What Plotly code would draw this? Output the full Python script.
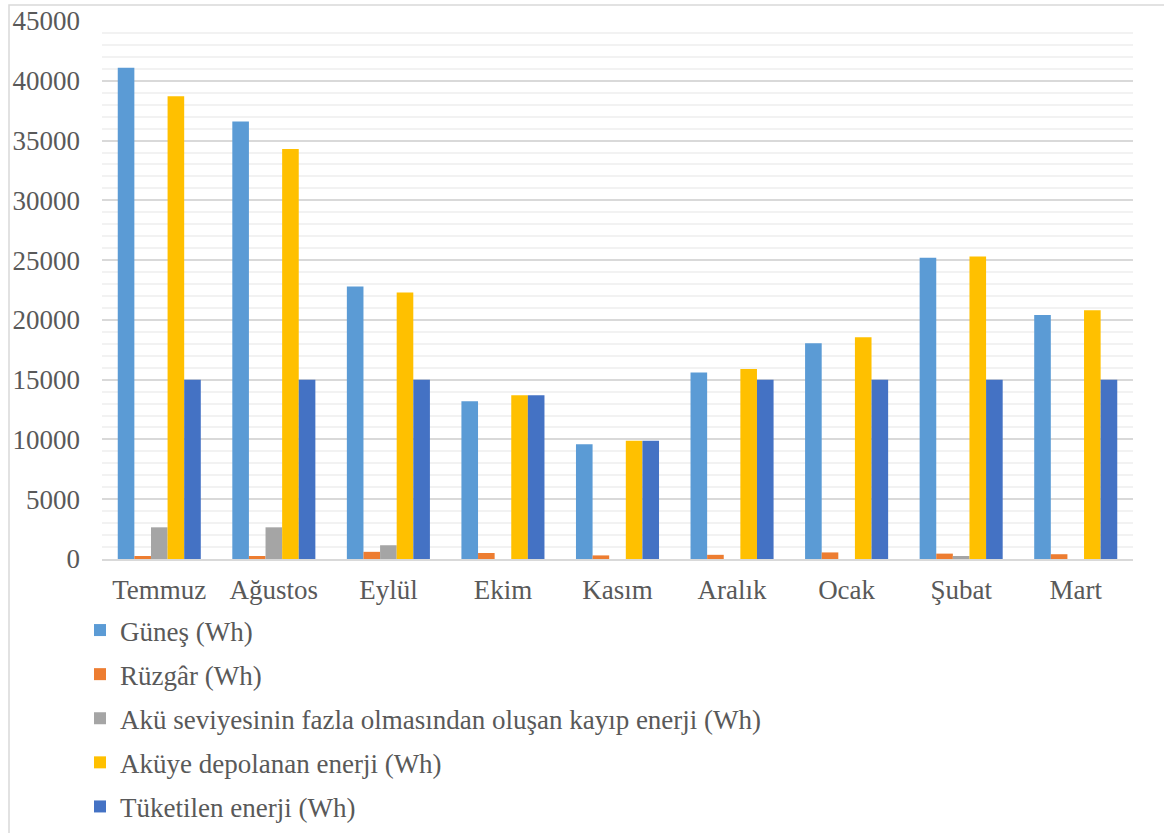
import plotly.graph_objects as go

months = ["Temmuz", "Ağustos", "Eylül", "Ekim", "Kasım", "Aralık", "Ocak", "Şubat", "Mart"]
gunes = [41100, 36600, 22800, 13200, 9600, 15600, 18050, 25200, 20400]
ruzgar = [250, 250, 600, 500, 300, 350, 550, 450, 400]
kayip = [2650, 2650, 1150, 0, 0, 0, 0, 250, 0]
depolanan = [38700, 34300, 22300, 13700, 9900, 15900, 18550, 25300, 20800]
tuketilen = [15000, 15000, 15000, 13700, 9900, 15000, 15000, 15000, 15000]

series = [
    ("Güneş (Wh)", gunes, "#5B9BD5"),
    ("Rüzgâr (Wh)", ruzgar, "#ED7D31"),
    ("Akü seviyesinin fazla olmasından oluşan kayıp enerji (Wh)", kayip, "#A5A5A5"),
    ("Aküye depolanan enerji (Wh)", depolanan, "#FFC000"),
    ("Tüketilen enerji (Wh)", tuketilen, "#4472C4"),
]

FONT = "Liberation Serif"
TXT = "#595959"
FS = 27

fig = go.Figure()
for i, (name, vals, col) in enumerate(series):
    fig.add_trace(go.Bar(
        x=months, y=vals, name=name, marker_color=col,
        marker_line_width=0, legendgroup=f"g{i}",
    ))

W, H = 1164, 833
L, R, T, B = 102, 31, 21, 274
pw, ph = W - L - R, H - T - B

def px_x(x):
    return (x - L) / pw

def px_y(y):
    return (H - B - y) / ph

fig.update_layout(
    width=W, height=H,
    margin=dict(l=L, r=R, t=T, b=B, autoexpand=False),
    paper_bgcolor="white", plot_bgcolor="white",
    barmode="group", bargap=0.275, bargroupgap=0,
    font=dict(family=FONT, size=FS, color=TXT),
    legend=dict(
        orientation="v", x=px_x(80), xanchor="left",
        y=px_y(606), yanchor="top", bgcolor="rgba(0,0,0,0)",
        font=dict(family=FONT, size=FS, color=TXT),
        tracegroupgap=6, itemclick=False,
    ),
    showlegend=True,
)
fig.update_xaxes(
    showgrid=False, showline=True, linecolor="#D9D9D9", linewidth=1.5,
    ticks="", ticklabelstandoff=6, automargin=False,
    tickfont=dict(family=FONT, size=FS, color=TXT),
)
fig.update_yaxes(
    range=[0, 45000], dtick=5000, showgrid=True, gridcolor="#D9D9D9", gridwidth=1.5,
    minor=dict(dtick=1000, showgrid=True, gridcolor="#F2F2F2", gridwidth=1.5),
    zeroline=False, showline=False, ticks="", ticklabelstandoff=21,
    tickformat="d", automargin=False,
    tickfont=dict(family=FONT, size=FS, color=TXT),
)
fig.add_shape(
    type="rect", xref="paper", yref="paper",
    x0=px_x(9), x1=px_x(1200), y0=px_y(900), y1=px_y(5),
    line=dict(color="#D9D9D9", width=1.5), fillcolor="rgba(0,0,0,0)", layer="below",
)
fig.write_html("out.html", config={"displayModeBar": False},
               post_script="document.body.style.margin='0';")
